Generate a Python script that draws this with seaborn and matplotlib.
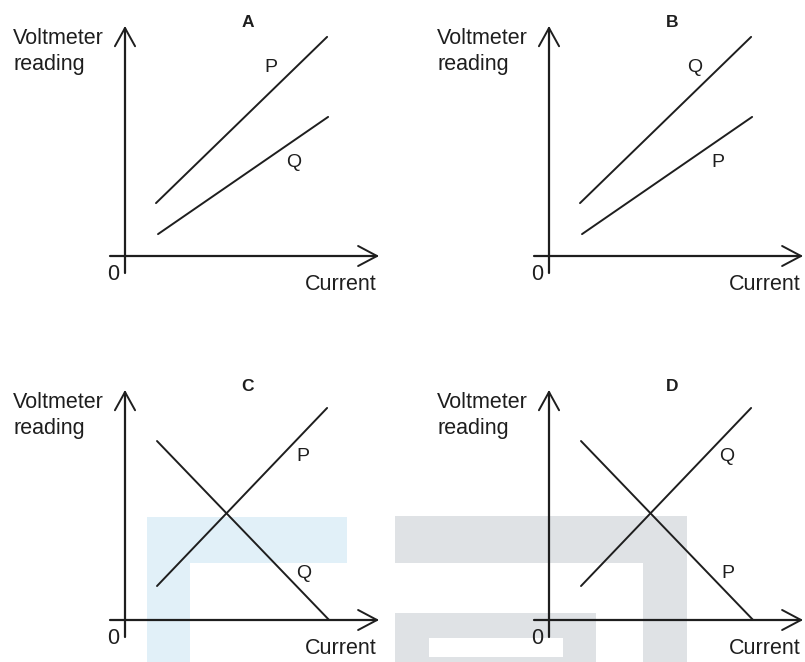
import matplotlib.pyplot as plt
import seaborn as sns
import pandas as pd
from matplotlib.patches import Rectangle

# panel letters and the two labelled lines in each
panels = ['A', 'B', 'C', 'D']

# A and B: two rising lines (upper and lower)
upper_x = [1.23, 8.02]
upper_y = [2.32, 9.61]
lower_x = [1.31, 8.06]
lower_y = [0.96, 6.10]

# C and D: one rising, one falling line that meets the current axis
rise_x = [1.27, 8.02]
rise_y = [1.49, 9.30]
fall_x = [1.27, 8.10]
fall_y = [7.85, 0.00]

# which letter sits on which line
first_labels = ['P', 'Q', 'P', 'Q']   # upper / rising line
second_labels = ['Q', 'P', 'Q', 'P']  # lower / falling line

W, H = 805, 662
# pixel position of the origin of each panel
origins = {'A': (125, 256), 'B': (549, 256), 'C': (125, 620), 'D': (549, 620)}
XU, YU = 25.2, 22.8  # pixels per data unit

sns.set_style("white")
plt.rcParams['font.family'] = ['Liberation Sans', 'DejaVu Sans']

fig = plt.figure(figsize=(W / 100, H / 100), dpi=100)

# background watermark shapes (figure pixel boxes, y measured from top)
def px_rect(x0, y0, x1, y1, color):
    r = Rectangle((x0 / W, 1 - y1 / H), (x1 - x0) / W, (y1 - y0) / H,
                  transform=fig.transFigure, facecolor=color, edgecolor='none', zorder=-5)
    fig.add_artist(r)

blue = '#e1f0f8'
grey = '#dfe2e5'
px_rect(147, 517, 347, 563, blue)
px_rect(147, 563, 190, 662, blue)
px_rect(395, 516, 687, 563, grey)
px_rect(643, 563, 687, 662, grey)
px_rect(395, 613, 596, 662, grey)
px_rect(429, 638, 563, 657, 'white')

ink = '#1e1e1e'

for i, name in enumerate(panels):
    ox, oy = origins[name]
    left = ox - 125
    top = oy - 256
    ax = fig.add_axes([left / W, 1 - (top + 310) / H, 400 / W, 310 / H])
    ax.set_facecolor('none')
    ax.set_xlim(-125 / XU, 275 / XU)
    ax.set_ylim(-54 / YU, 256 / YU)
    ax.set_axis_off()

    if name in ('A', 'B'):
        l1 = pd.DataFrame({'x': upper_x, 'y': upper_y})
        l2 = pd.DataFrame({'x': lower_x, 'y': lower_y})
        pos1, pos2 = (5.8, 8.25), (6.7, 4.08)
    else:
        l1 = pd.DataFrame({'x': rise_x, 'y': rise_y})
        l2 = pd.DataFrame({'x': fall_x, 'y': fall_y})
        pos1, pos2 = (7.06, 7.19), (7.1, 2.06)

    sns.lineplot(data=l1, x='x', y='y', ax=ax, color=ink, lw=1.4, sort=False)
    sns.lineplot(data=l2, x='x', y='y', ax=ax, color=ink, lw=1.4, sort=False)

    # axes with open arrow heads
    ax.plot([-0.6, 10], [0, 0], color=ink, lw=1.6, clip_on=False)
    ax.plot([0, 0], [-0.75, 10], color=ink, lw=1.6, clip_on=False)
    ax.plot([9.25, 10, 9.25], [0.44, 0, -0.44], color=ink, lw=1.4, clip_on=False)
    ax.plot([-0.4, 0, 0.4], [9.2, 10, 9.2], color=ink, lw=1.4, clip_on=False)

    ax.text(-4.44, 9.56, 'Voltmeter', fontsize=15.5, ha='left', va='center', color=ink)
    ax.text(-4.44, 8.38, 'reading', fontsize=15.5, ha='left', va='center', color=ink)
    ax.text(-0.48, -0.83, '0', fontsize=15.5, ha='center', va='center', color=ink)
    ax.text(10, -1.27, 'Current', fontsize=15.5, ha='right', va='center', color=ink)
    ax.text(4.88, 10.26, name, fontsize=12.5, fontweight='bold', ha='center', va='center', color=ink)

    ax.text(pos1[0], pos1[1], first_labels[i], fontsize=14, ha='center', va='center', color=ink)
    ax.text(pos2[0], pos2[1], second_labels[i], fontsize=14, ha='center', va='center', color=ink)

fig.savefig('out.png', dpi=100)
